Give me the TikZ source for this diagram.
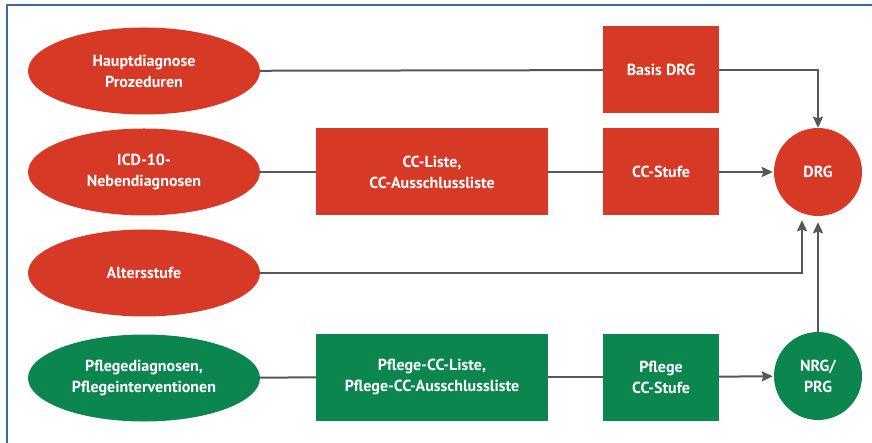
\documentclass[tikz,border=0pt]{standalone}
\usepackage{fontspec}
\setmainfont{PT Sans}
\usetikzlibrary{shapes,arrows.meta,positioning,calc}

\definecolor{drgred}{RGB}{214,57,38}
\definecolor{nrggreen}{RGB}{10,134,78}
\definecolor{linegray}{RGB}{88,86,86}
\definecolor{framblue}{RGB}{62,102,170}

\begin{document}
\begin{tikzpicture}[
    x=1pt, y=-1pt,
    font=\fontsize{16}{21}\selectfont\bfseries,
    oval/.style={ellipse, fill=drgred, text=white, align=center,
                 minimum width=232pt, minimum height=87pt, inner sep=0pt},
    block/.style={rectangle, fill=drgred, text=white, align=center,
                  minimum width=116pt, minimum height=87pt, inner sep=0pt},
    wideblock/.style={block, minimum width=232pt},
    result/.style={circle, fill=drgred, text=white, align=center,
                   minimum size=88pt, inner sep=0pt},
    nurse/.style={fill=nrggreen},
    line/.style={draw=linegray, line width=2pt},
    arrow/.style={line, -{Stealth[length=11pt, width=10pt, inset=1.5pt]}}
]
\useasboundingbox[fill=white] (0,0) rectangle (872,443);
%% frame (cut at right and bottom)
\draw[framblue, line width=2pt] (7,443) -- (7,5) -- (872,5);

%% -- Input nodes
\node[oval] (hd)  at (144,71)  {Hauptdiagnose\\Prozeduren};
\node[oval] (icd) at (144,172) {ICD-10-\\Nebendiagnosen};
\node[oval] (alt) at (144,273) {Altersstufe};
\node[oval, nurse] (pfl) at (144,378) {Pflegediagnosen,\\Pflegeinterventionen};

%% -- Blocks
\node[block]     (basis) at (661,70)  {Basis DRG};
\node[wideblock] (ccl)   at (432,172) {CC-Liste,\\CC-Ausschlussliste};
\node[block]     (ccs)   at (661,172) {CC-Stufe};
\node[wideblock, nurse] (pcl) at (432,377) {Pflege-CC-Liste,\\Pflege-CC-Ausschlussliste};
\node[block, nurse]     (pcs) at (661,377) {Pflege\\CC-Stufe};

%% -- Results
\node[result]        (drg) at (818,172) {DRG};
\node[result, nurse] (nrg) at (818,376) {NRG/\\PRG};

\coordinate (altin) at ($(drg.south)+(-16,0)$);

%% -- Connectors
\draw[line]  (hd) -- (basis);
\draw[arrow] (basis.east) -| (drg.north);

\draw[line]  (icd) -- (ccl);
\draw[line]  (ccl) -- (ccs);
\draw[arrow, shorten >=1pt] (ccs) -- (drg);

\draw[arrow, shorten >=4pt] (alt.east) -| (altin);

\draw[line]  (pfl) -- (pcl);
\draw[line]  (pcl) -- (pcs);
\draw[arrow, shorten >=1pt] (pcs) -- (nrg);
\draw[arrow, shorten >=6pt] (nrg) -- (drg);
\end{tikzpicture}
\end{document}
